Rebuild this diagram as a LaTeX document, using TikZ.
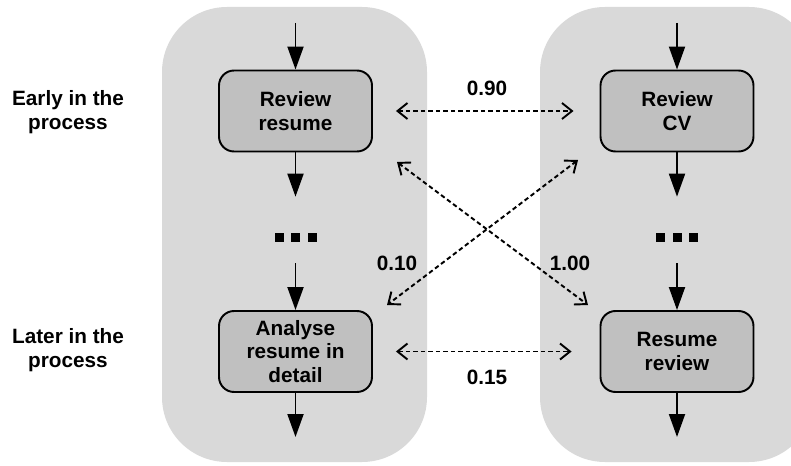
\documentclass[tikz,border=0pt]{standalone}
\usepackage{fontspec}
\setmainfont{Liberation Sans}
\usetikzlibrary{arrows.meta}
\definecolor{lanegray}{HTML}{D9D9D9}
\definecolor{taskgray}{HTML}{C0C0C0}
\begin{document}
\begin{tikzpicture}
      [
      x=0.02cm, y=-0.02cm,
      every node/.style={font=\fontsize{11.8}{13.5}\selectfont\bfseries},
      lane/.style={fill=lanegray, rounded corners=1.3cm},
      task/.style={rectangle,draw,line width=1.1pt,fill=taskgray,rounded corners=0.3cm,inner sep=0pt,minimum width=3.06cm,minimum height=1.62cm,align=center},
      flow/.style={line width=1.1pt,-{Triangle[length=0.46cm,width=0.32cm]}},
      link/.style={line width=1.1pt,dash pattern=on 0.09cm off 0.06cm,{Straight Barb[length=0.2cm,width=0.32cm]}-{Straight Barb[length=0.2cm,width=0.32cm]}},
      dot/.style={rectangle,fill,inner sep=0pt,minimum size=0.18cm}
      ]
      \clip (0,0) rectangle (791,466);
      \fill [lane] (162,7) rectangle (427,462);
      \fill [lane] (540,7) rectangle (814,462);
      \node (early) at (68,112) [align=center] {Early in the\\process};
      \node (later) at (68,350) [align=center] {Later in the\\process};
      \node (review) at (295.5,111) [task] {Review\\resume};
      \node (cv) at (677,111) [task] {Review\\CV};
      \node (analyse) at (295.5,351.5) [task] {Analyse\\resume in\\detail};
      \node (resrev) at (677,351.5) [task] {Resume\\review};
      \foreach \n/\dx in {a/-16.5,b/0,c/16.5}
      {
        \node (dl\n) at (295.5+\dx,237.5) [dot] {};
        \node (dr\n) at (677+\dx,237.5) [dot] {};
      }
      \coordinate (reviewin) at (295.5,23);
      \coordinate (cvin) at (677,23);
      \coordinate (analyseout) at (295.5,437);
      \coordinate (resrevout) at (677,437);
      \draw [flow] (reviewin) to (review);
      \draw [flow] (cvin) to (cv);
      \draw [flow, shorten >=0.72cm] (review) to (dlb);
      \draw [flow, shorten >=0.72cm] (cv) to (drb);
      \draw [flow, shorten <=0.42cm] (dlb) to (analyse);
      \draw [flow, shorten <=0.42cm] (drb) to (resrev);
      \draw [flow] (analyse) to (analyseout);
      \draw [flow] (resrev) to (resrevout);
      % links between the two processes
      \coordinate (x1a) at (397,162);
      \coordinate (x1b) at (588,305);
      \coordinate (x2a) at (578,160);
      \coordinate (x2b) at (387,305);
      \draw [link, shorten <=0.46cm, shorten >=0.52cm] (review) to (cv);
      \draw [link, shorten <=0.46cm, shorten >=0.56cm] (analyse) to (resrev);
      \draw [link] (x1a) to (x1b);
      \draw [link] (x2a) to (x2b);
      \node (w090) at (487,88) {0.90};
      \node (w015) at (487,377) {0.15};
      \node (w010) at (397,263) {0.10};
      \node (w100) at (570,263) {1.00};
    \end{tikzpicture}
\end{document}
